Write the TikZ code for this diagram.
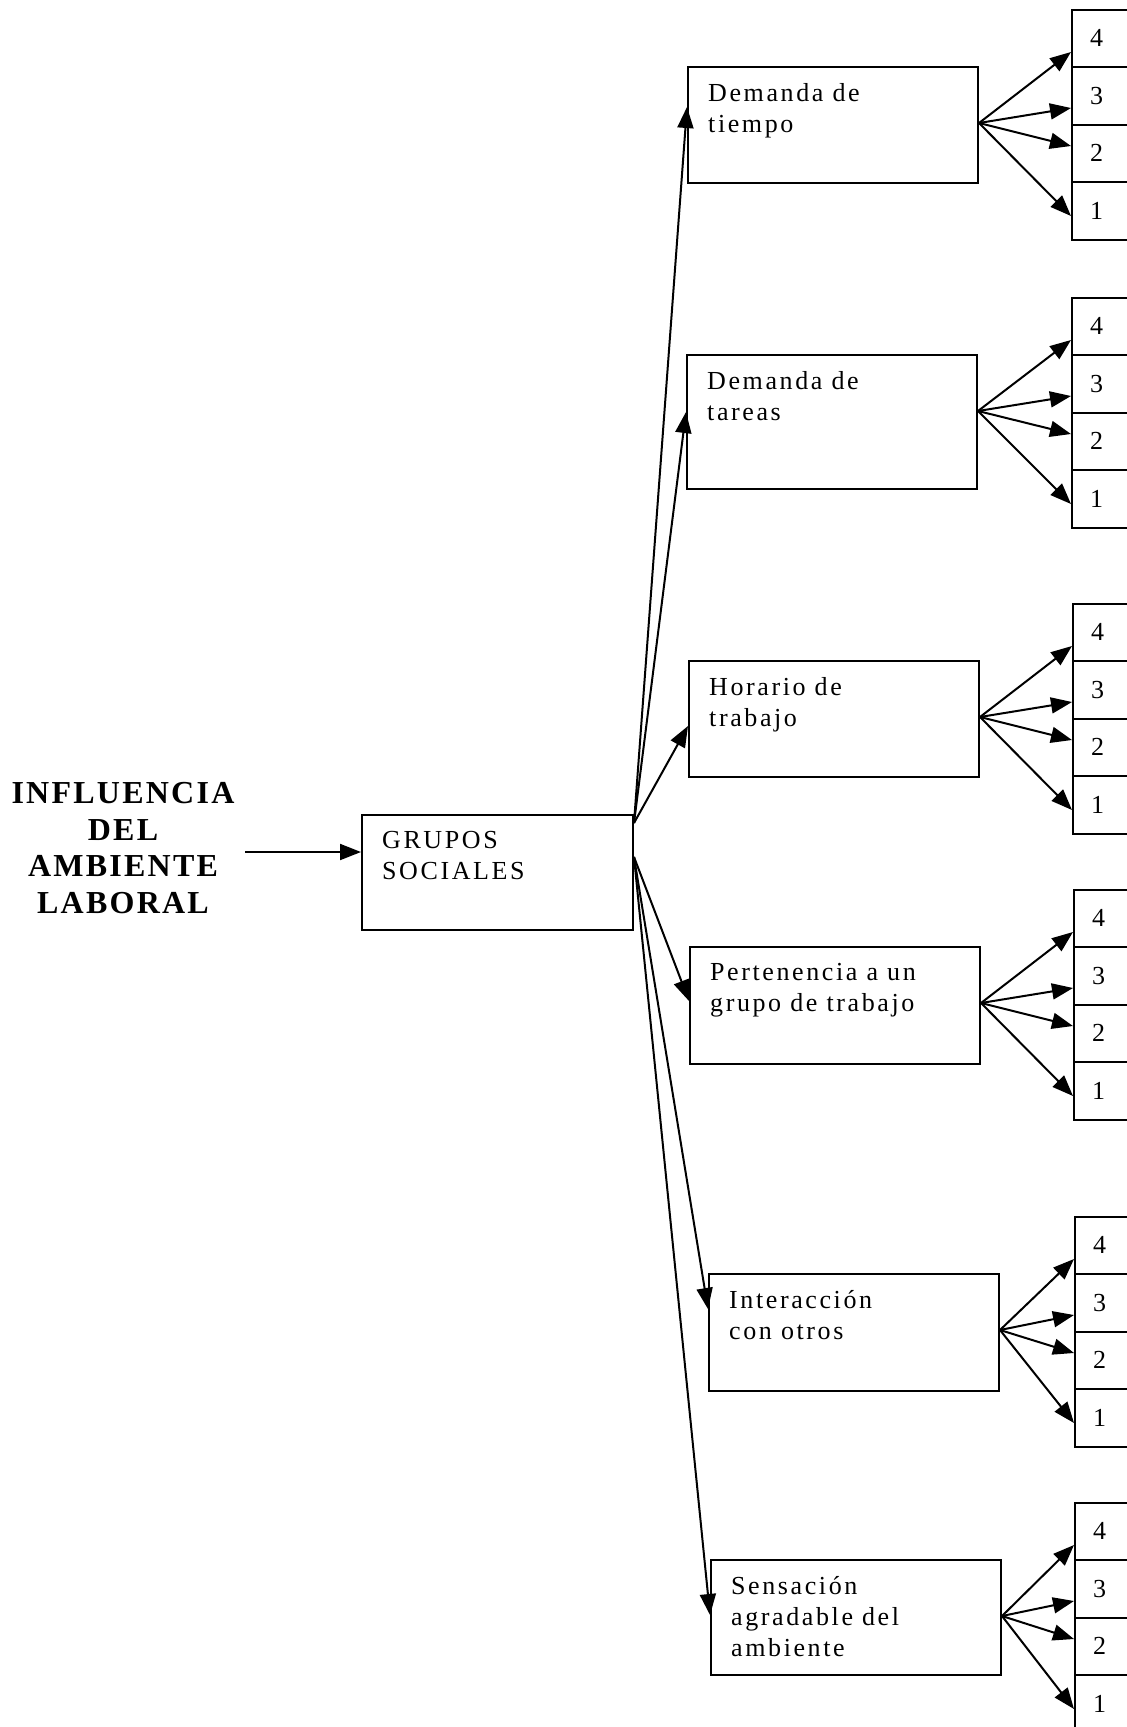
\documentclass[tikz,border=0pt]{standalone}
\usepackage{fontspec}
\setmainfont{Liberation Serif}
\newfontfamily\spacedfont[LetterSpace=10]{Liberation Serif}
\newfontfamily\titlefont[LetterSpace=7]{Liberation Serif}
\usetikzlibrary{arrows.meta,calc}
\begin{document}
\begin{tikzpicture}[x=1pt,y=-1pt,
  box/.style={draw, line width=2pt, anchor=north west, inner sep=0pt},
  boxtext/.style={anchor=north west, inner sep=0pt, align=left, font=\spacedfont\fontsize{26}{31}\selectfont},
  cell/.style={draw, line width=2pt, anchor=north west, minimum width=70pt, minimum height=57.5pt, text width=34pt, inner xsep=18pt, inner ysep=0pt, align=left, font=\fontsize{26}{30}\selectfont},
  arr/.style={line width=2pt, -{Triangle[length=21pt,width=16pt]}},
]
\useasboundingbox (0,0) rectangle (1127,1727);
\clip (0,0) rectangle (1127,1727);

% title
\node[align=center, inner sep=0pt, font=\titlefont\bfseries\fontsize{32}{36.5}\selectfont] (title) at (123,848)
  {INFLUENCIA\\DEL\\AMBIENTE\\LABORAL};
\coordinate (ts) at (245,852);

% central box
\node[box, minimum width=271pt, minimum height=115pt] (gr) at (361,814) {};
\node[boxtext] (grt) at ($(gr.north west)+(21,17)$) {GRUPOS\\SOCIALES};
\draw[arr] (ts) -- ($(gr.north west)+(0,38)$);

% groups
\foreach \n/\bx/\by/\bh/\cx/\txt in {
  1/687/66/116/1071/{Demanda de\\tiempo},
  2/686/354/134/1071/{Demanda de\\tareas},
  3/688/660/116/1072/{Horario de\\trabajo},
  4/689/946/117/1073/{Pertenencia a un\\grupo de trabajo},
  5/708/1273/117/1074/{Interacción\\con otros},
  6/710/1559/115/1074/{Sensación\\agradable del\\ambiente}}{
  \node[box, minimum width=290pt, minimum height=\bh pt] (b\n) at (\bx,\by) {};
  \node[boxtext] (t\n) at ($(b\n.north west)+(21,17)$) {\txt};
  \node[cell] (c\n d) at (\cx,\by-57.5) {4};
  \node[cell] (c\n c) at (\cx,\by) {3};
  \node[cell] (c\n b) at (\cx,\by+57.5) {2};
  \node[cell] (c\n a) at (\cx,\by+115) {1};
  \coordinate (s\n) at ($(b\n.north east)+(0,57)$);
  \draw[arr] (s\n) -- ($(c\n d.south west)+(0,-16)$);
  \draw[arr] (s\n) -- ($(c\n c.south west)+(0,-17.5)$);
  \draw[arr] (s\n) -- ($(c\n b.north west)+(0,22.5)$);
  \draw[arr] (s\n) -- ($(c\n a.north west)+(0,35)$);
}

% fan from central box
\coordinate (gu) at ($(gr.north east)+(0,9)$);
\coordinate (gd) at ($(gr.north east)+(0,43)$);
\draw[arr] (gu) -- ($(b1.north west)+(0,41)$);
\draw[arr] (gu) -- ($(b2.north west)+(0,58)$);
\draw[arr] (gu) -- ($(b3.north west)+(0,66)$);
\draw[arr] (gd) -- ($(b4.north west)+(0,55)$);
\draw[arr] (gd) -- ($(b5.north west)+(0,36)$);
\draw[arr] (gd) -- ($(b6.north west)+(0,56)$);
\end{tikzpicture}
\end{document}
